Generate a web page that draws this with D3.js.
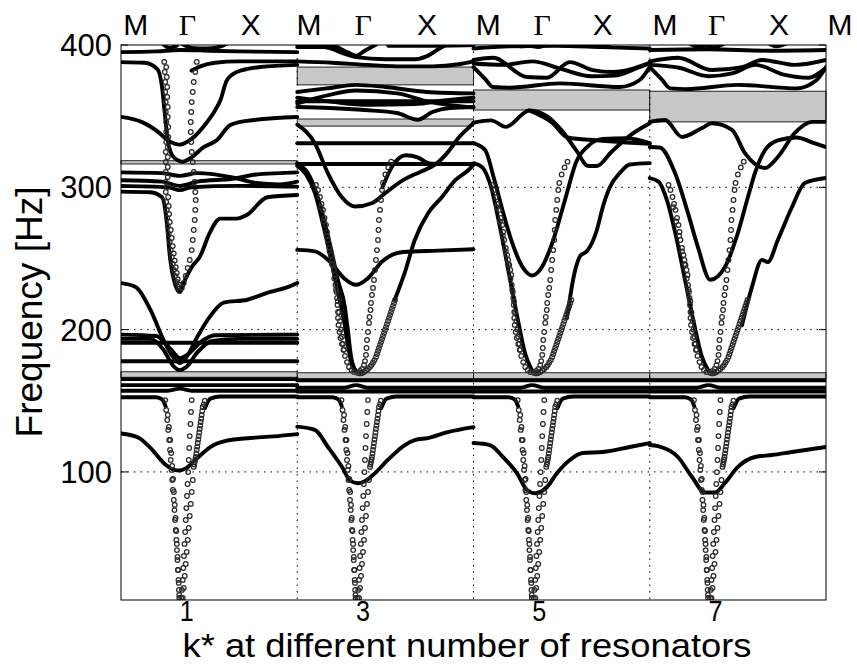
<!DOCTYPE html>
<html>
<head>
<meta charset="utf-8">
<script src="https://cdn.jsdelivr.net/npm/d3@7"></script>
<style>
  body { margin: 0; background: #fff; }
  svg { display: block; }
</style>
</head>
<body>
<div id="app"></div>
<script>
// Band structures M-Γ-X-M for 1, 3, 5, 7 resonators, each panel spans k = 0..3 (Γ at 1, X at 2)
const resonators = [1, 3, 5, 7];
const yTicks = [100, 200, 300, 400];
const resonatorLabelK = [1.12, 4.12, 7.12, 10.12];
const topLabels = ["M", "Γ", "X", "M", "Γ", "X", "M", "Γ", "X", "M", "Γ", "X", "M"];
const topLabelK = [0.25, 1.13, 2.21, 3.2, 4.12, 5.21, 6.25, 7.17, 8.2, 9.26, 10.14, 11.2, 12.24];

// band gaps (grey) per panel, [fLow, fHigh]
const gaps1 = [[166.5, 170.4], [316.4, 318.7]];
const gaps3 = [[165.5, 169.7], [343, 348], [372, 384.5]];
const gaps5 = [[165.5, 169.7], [354.3, 368.4]];
const gaps7 = [[165.5, 169.7], [346, 367.5]];

// solid branches per panel, [k, f]
const lines1 = [
  [[0,127],[0.3,124],[0.52,116],[0.76,105],[0.9,101.5],[1.0,101],[1.1,102.5],[1.28,109],[1.52,117.5],[1.8,122],[2.2,123.8],[2.6,125],[3,126.6]],
  [[0,152.5],[0.6,152.5],[0.7,151],[0.76,146]],
  [[1.43,145],[1.52,151.5],[1.7,153],[3,153]],
  [[0,157],[0.8,157],[1.0,158.5],[1.2,157],[3,157]],
  [[0,161],[3,161]],
  [[0,165.2],[3,165.2]],
  [[0,177.8],[3,177.8]],
  [[0,193.5],[0.5,193.5],[0.72,186],[0.88,175],[1.0,171.5],[1.12,174],[1.3,184],[1.55,192],[2,193.5],[3,193.5]],
  [[0,196.5],[0.6,195.5],[0.85,186],[1.0,180],[1.15,183],[1.35,191],[1.6,196],[3,196.5]],
  [[0,190.8],[3,190.8]],
  [[0,232.7],[0.25,230],[0.5,214],[0.72,193],[0.88,181],[1.0,176.5],[1.12,181],[1.3,195],[1.51,209],[1.75,219],[2.15,221],[2.5,226],[2.85,230],[3,232.7]],
  [[0,297],[0.5,296.5],[0.7,293],[0.78,275],[0.83,252],[0.92,232],[1.0,226.5],[1.1,236],[1.22,245],[1.34,251],[1.51,268],[1.69,278],[1.97,278],[2.14,280.5],[2.49,293],[3,294.6]],
  [[0,310.5],[0.7,310],[1.0,308],[1.3,310],[1.9,307],[2.3,303],[2.7,302],[3,304]],
  [[0,305],[0.7,304],[1.0,301],[1.3,304],[1.9,306],[2.3,309],[2.7,310],[3,310.5]],
  [[0,301],[0.8,300],[1.0,298],[1.2,300],[2.0,301],[3,300.5]],
  [[0,388],[0.4,387.5],[0.62,383],[0.7,370],[0.75,350],[0.8,332],[0.9,321],[1.05,318],[1.2,321],[1.4,328],[1.63,333],[1.86,343.8],[2.11,346.5],[3,349.4]],
  [[0,349.5],[0.35,346],[0.6,340],[0.8,333],[1.0,330],[1.2,334],[1.43,344],[1.6,354],[1.69,361],[1.8,375],[1.97,381],[2.37,384.5],[3,386]],
  [[1.2,382],[1.35,385],[1.6,387.5],[2.0,388.5],[3,388.5]],
  [[0,395],[0.6,395.5],[1.0,396.5],[1.5,396],[2,395.5],[3,395]],
  [[0.72,400.5],[0.82,398],[0.95,399.5]],
  [[1.05,400.5],[1.2,398],[1.45,397.5],[1.7,399],[1.8,401]]
];

const lines3 = [
  [[0,131.8],[0.3,129.5],[0.52,117.7],[0.76,103.6],[0.9,94],[1.03,92],[1.15,93.5],[1.32,99],[1.54,108.4],[1.83,118.9],[2.0,122.4],[2.22,123.8],[2.56,128],[3,131.5]],
  [[0,152.5],[0.6,152.5],[0.7,151],[0.76,146]],
  [[1.43,145],[1.52,151.5],[1.7,153],[3,153]],
  [[0,156.5],[3,156.5]],
  [[0,159.2],[0.8,159.2],[1.0,161],[1.2,159.2],[3,159.2]],
  [[0,164.3],[3,164.3]],
  [[0,256],[0.3,255],[0.55,248],[0.8,236],[1.0,231.5],[1.2,236],[1.45,248],[1.8,254.5],[2.4,255.5],[3,256.5]],
  [[0,317],[0.18,310],[0.35,293],[0.47,275],[0.59,254],[0.69,235],[0.81,216],[0.86,200],[0.92,180],[1.0,171]],
  [[0,315],[0.15,309],[0.3,296],[0.45,272],[0.58,248],[0.7,225],[0.8,205],[0.88,185],[0.95,173],[1,171]],
  [[1.66,221],[1.83,240],[2.0,263],[2.23,282],[2.46,293],[2.69,305],[2.91,312],[3,315.7]],
  [[0,316.4],[3,316.4]],
  [[0,331],[3,331]],
  [[0,344],[0.3,331],[0.52,310],[0.76,293],[0.98,286.5],[1.28,289],[1.5,296],[1.8,305],[2.1,311],[2.35,316],[2.55,324],[2.75,335],[2.92,342],[3,345]],
  [[1.45,300],[1.62,315],[1.85,322.5],[2.05,321],[2.25,316.8],[2.5,316.4]],
  [[0,356.4],[0.55,355.7],[1.15,354.3],[1.7,352.2],[2.05,347.5],[2.3,352.9],[2.6,355.7],[3,356.4]],
  [[0,360.5],[3,360.5]],
  [[0,363],[0.6,360],[1.2,358],[2,358.5],[2.5,361],[3,363]],
  [[0,359],[0.55,365],[1.0,368],[1.7,366],[2.25,360],[3,356]],
  [[0,367],[0.5,369.5],[1.0,372],[1.5,370.5],[2.2,367],[3,366]],
  [[0,388.5],[0.6,387.5],[1.2,386],[1.8,385],[2.3,385],[2.75,386.5],[3,388.5]],
  [[0,400],[0.55,400],[0.85,395],[1.0,392.5],[1.15,396],[1.35,400.5]],
  [[0,398.5],[0.45,398.5],[0.8,394],[1.0,391.5],[1.5,390],[2.0,390],[2.2,392],[2.4,397],[2.55,400.5]],
  [[1.55,399.5],[2.2,399.5],[3,400]]
];

const lines5 = [
  [[0,120.3],[0.28,118.9],[0.5,110.5],[0.74,99.1],[0.91,87.3],[1.05,85],[1.25,89.4],[1.42,99.1],[1.64,108.4],[1.86,113.3],[2.2,114],[2.66,117.5],[3,120.3]],
  [[0,152.5],[0.6,152.5],[0.7,151],[0.76,146]],
  [[1.43,145],[1.52,151.5],[1.7,153],[3,153]],
  [[0,156.5],[3,156.5]],
  [[0,159.2],[0.8,159.2],[1.0,161],[1.2,159.2],[3,159.2]],
  [[0,164.3],[3,164.3]],
  [[0,317],[0.15,314],[0.3,300],[0.45,272],[0.6,240],[0.75,208],[0.88,183],[1,171]],
  [[0,331],[0.2,326],[0.35,306],[0.5,283],[0.65,262],[0.85,243],[1.0,238],[1.15,243],[1.35,262],[1.55,290],[1.75,318],[1.95,329],[2.2,334],[2.6,334.5],[3,331]],
  [[1.59,208],[1.72,240],[1.82,252],[1.93,255],[2.1,270],[2.2,286],[2.32,300],[2.49,310],[2.66,316],[3,317]],
  [[0,345.5],[0.3,347],[0.55,342.5],[0.95,354],[1.25,350],[1.5,340],[1.75,326],[1.95,315],[2.1,315],[2.35,325],[2.65,336],[3,345]],
  [[0.95,354],[1.35,345],[1.6,335],[2.1,333],[2.6,331.5],[3,330.5]],
  [[0,384.5],[0.2,376],[0.33,370.5],[0.62,370],[1.47,373],[2.49,370.5],[2.83,375.4],[3,384.5]],
  [[0,389.5],[0.33,391],[0.91,377.5],[1.25,377],[1.64,388],[2.03,382.4],[2.37,381],[3,387.4]],
  [[0,387],[0.5,386],[1.0,388.5],[1.5,383],[2.0,378],[2.4,378.5],[2.8,384],[3,387]],
  [[0,397.5],[0.6,399],[1.4,399.5],[2.2,398.5],[3,397.5]],
  [[0.7,400.5],[0.8,399],[0.95,399.5],[1.1,398.5],[1.25,400.5]],
  [[2.05,400.5],[2.15,399],[2.3,400.5]]
];

const lines7 = [
  [[0,118.9],[0.14,118.2],[0.48,110.5],[0.72,96.4],[0.94,85.5],[1.11,85.5],[1.28,92.2],[1.5,103.5],[1.79,110.5],[2.08,111.9],[2.42,114],[3,117.5]],
  [[0,152.5],[0.6,152.5],[0.7,151],[0.76,146]],
  [[1.43,145],[1.52,151.5],[1.7,153],[3,153]],
  [[0,156.5],[3,156.5]],
  [[0,159.2],[0.8,159.2],[1.0,161],[1.2,159.2],[3,159.2]],
  [[0,164.3],[3,164.3]],
  [[0,306.5],[0.15,304],[0.3,290],[0.45,265],[0.6,235],[0.75,205],[0.88,182],[1,171]],
  [[0,328.3],[0.17,328],[0.43,310],[0.65,282],[0.82,258],[1.03,235],[1.28,244],[1.5,268],[1.67,293],[1.79,310],[1.96,326],[2.18,333],[2.5,335],[2.8,331],[3,328.3]],
  [[1.57,203],[1.74,230],[1.91,249],[2.01,247.5],[2.18,263],[2.42,286],[2.64,303],[3,306.5]],
  [[0,346],[0.26,347.3],[0.55,335.4],[0.89,341.7],[1.06,345],[1.4,340.3],[1.62,324],[1.96,313.6],[2.18,321.3],[2.47,338.2],[2.76,346],[3,346]],
  [[0,384.5],[0.2,376],[0.35,369.5],[0.62,369],[1.5,372],[2.5,369.5],[2.83,375],[3,384.5]],
  [[0,388.5],[0.48,391],[1.06,382.4],[1.57,384.5],[1.91,389.5],[2.47,386],[3,389.5]],
  [[0,386],[0.5,384],[1.0,378],[1.4,380],[1.8,386],[2.3,379],[2.7,377],[3,384]],
  [[0,396.5],[1,397],[2,396],[3,396.5]],
  [[0.7,400.5],[0.8,399],[0.95,399.5],[1.1,398.5],[1.25,400.5]],
  [[2.05,400.5],[2.15,399],[2.3,400.5]]
];

// circle-marked branches, [k - kΓ, f]
const dotsLow = [
  [[-0.247,150.5],[-0.23,143.5],[-0.213,136.5],[-0.196,129.5],[-0.179,122.4],[-0.165,115.4],[-0.153,108.4],[-0.14,101.4],[-0.128,94.3],[-0.116,87.3],[-0.102,80.3],[-0.09,73.2],[-0.08,66.2],[-0.068,59.2],[-0.058,52.2],[-0.048,45.1],[-0.039,38.1],[-0.031,31.1],[-0.022,24.1],[-0.014,17.1],[-0.007,11.4]],
  [[-0.204,140],[-0.184,131.6],[-0.163,122.4],[-0.146,113.3],[-0.129,104.2],[-0.114,95],[-0.1,85.9],[-0.085,76.8],[-0.071,67.6],[-0.06,58.5],[-0.049,49.4],[-0.037,40.2],[-0.027,31.1],[-0.017,22],[-0.009,13.5]],
  [[0.204,150.5],[0.192,142.1],[0.182,133.7],[0.17,125.2],[0.162,116.8],[0.153,108.4],[0.143,99.9],[0.133,91.5],[0.123,83.1],[0.112,74.6],[0.102,66.2],[0.092,57.8],[0.082,49.4],[0.071,40.9],[0.061,32.5],[0.051,24.1],[0.037,17.1],[0.026,11.4]],
  [[0.425,150],[0.408,147.5],[0.391,145.6],[0.383,142.8],[0.374,140],[0.366,137.5],[0.357,135.1],[0.349,132.6],[0.34,130.2],[0.332,127.7],[0.323,125.2],[0.315,122.8],[0.306,120.3],[0.298,117.8],[0.289,115.4],[0.281,113],[0.272,110.5],[0.264,108.7],[0.255,107],[0.247,105.2],[0.238,103.5],[0.221,94.3],[0.204,85.9],[0.187,77.5],[0.17,69],[0.153,60.6],[0.136,52.2],[0.119,43.7],[0.102,35.3],[0.085,26.9],[0.068,18.5],[0.051,11.4]]
];

const dotsMid = [
  [[-0.681,301.6],[-0.647,298.1],[-0.613,293.2],[-0.587,288.3],[-0.562,284.1],[-0.536,278.4],[-0.511,273.5],[-0.494,268.6],[-0.477,263],[-0.451,257.4],[-0.426,252.4],[-0.409,248.9],[-0.391,245.4],[-0.374,241.9],[-0.357,238.4],[-0.349,231.4],[-0.332,226.5],[-0.323,222.2],[-0.315,217.3],[-0.306,212.4],[-0.306,208.2],[-0.298,203.3],[-0.281,198.3],[-0.264,194.1],[-0.238,189.9],[-0.213,185.7],[-0.187,181.5],[-0.153,177.2],[-0.119,173.7],[-0.077,171.6],[-0.034,170.2]],
  [[-0.6,286],[-0.55,276],[-0.5,266],[-0.45,255],[-0.41,246],[-0.37,236],[-0.34,228],[-0.31,220],[-0.29,212],[-0.272,206],[-0.255,200],[-0.238,195],[-0.221,190],[-0.204,186]],
  [[0.6,318],[0.55,314],[0.5,309],[0.46,303],[0.443,298.1],[0.426,291.1],[0.409,284.1],[0.391,277],[0.383,270],[0.374,263],[0.357,255.9],[0.34,248.9],[0.323,241.9],[0.306,234.9],[0.289,229.3],[0.272,224.3],[0.255,218.7],[0.247,213.8],[0.23,208.9],[0.221,204.7],[0.204,198.3],[0.187,192.7],[0.179,187.1],[0.17,182.2],[0.153,177.9],[0.136,175.1],[0.102,172.3],[0.068,170.9],[0.034,169.5]],
  [[0.664,220.8],[0.647,218.7],[0.63,216.6],[0.613,214.5],[0.596,212.4],[0.579,210.3],[0.562,208.2],[0.545,206.1],[0.528,203.9],[0.511,201.8],[0.494,199.7],[0.477,197.6],[0.46,195.5],[0.443,193.4],[0.426,191.3],[0.409,189.2],[0.391,187.1],[0.374,185],[0.357,182.9],[0.34,180.8],[0.315,178.6],[0.289,176.9],[0.264,175.1],[0.238,173.7],[0.204,172.3],[0.17,171.3],[0.136,170.2],[0.102,169.5],[0.068,169.2]]
];

const dotsTop1 = [
  [[-0.264,388.1],[-0.255,381],[-0.247,374],[-0.247,367],[-0.238,359.9],[-0.238,352.9],[-0.23,345.9],[-0.23,338.9],[-0.23,331.8],[-0.238,324.8],[-0.238,317.8],[-0.238,310.8],[-0.238,303.7],[-0.238,296.7],[-0.23,289.7],[-0.221,284.1],[-0.213,278.4],[-0.204,272.8],[-0.187,267.2],[-0.17,261.6],[-0.153,255.9],[-0.136,251],[-0.119,246.1],[-0.102,241.9],[-0.077,237.7],[-0.051,233.5],[-0.026,230],[0,227.1]],
  [[-0.23,384.5],[-0.221,377.5],[-0.213,370.5],[-0.213,363.5],[-0.204,356.4],[-0.204,349.4],[-0.196,342.4],[-0.196,335.4],[-0.204,328.3],[-0.204,321.3],[-0.204,314.3],[-0.204,307.2],[-0.204,300.2],[-0.196,293.2],[-0.187,286.9],[-0.179,281.2],[-0.17,275.6],[-0.153,270],[-0.136,264.4],[-0.119,258.7],[-0.102,253.5],[-0.085,248.5],[-0.068,243.9],[-0.051,239.8],[-0.034,235.5],[-0.017,231.8]],
  [[0.289,388.1],[0.264,381],[0.238,374],[0.221,367],[0.204,359.9],[0.196,352.9],[0.187,345.9],[0.187,338.9],[0.196,331.8],[0.204,324.8],[0.221,317.8],[0.238,310.8],[0.255,303.7],[0.264,296.7],[0.272,291.1],[0.264,284.1],[0.255,277],[0.238,270],[0.221,263],[0.204,255.9],[0.17,248.9],[0.136,243.3],[0.102,237.7],[0.068,232.8],[0.034,229.3]]
];

const panelLines = [lines1, lines3, lines5, lines7];
const panelGaps = [gaps1, gaps3, gaps5, gaps7];
const panelDots = [dotsLow.concat(dotsTop1), dotsLow.concat(dotsMid), dotsLow.concat(dotsMid), dotsLow.concat(dotsMid)];

const d3 = window.d3;
const width = 857, height = 664;
const plot = { left: 121, right: 826, top: 45, bottom: 600 };

const x = d3.scaleLinear().domain([0, 12]).range([plot.left, plot.right]);
const y = d3.scaleLinear().domain([10, 400]).range([plot.bottom, plot.top]);

const svg = d3.select("#app").append("svg")
  .attr("width", width).attr("height", height);

svg.append("clipPath").attr("id", "clip")
  .append("rect")
  .attr("x", plot.left).attr("y", plot.top)
  .attr("width", plot.right - plot.left).attr("height", plot.bottom - plot.top);

const sans = "'Liberation Sans', Arial, sans-serif";
const narrow = "'Liberation Sans Narrow', 'Arial Narrow', 'Liberation Sans', sans-serif";

// grey band gaps
const gapG = svg.append("g");
panelGaps.forEach((gaps, i) => {
  gapG.selectAll(null).data(gaps).join("rect")
    .attr("x", x(i * 3)).attr("width", x(3) - x(0))
    .attr("y", d => y(d[1])).attr("height", d => y(d[0]) - y(d[1]))
    .attr("fill", "#c8c8c8").attr("stroke", "#222").attr("stroke-width", 1);
});

// dotted grid
const grid = svg.append("g").attr("stroke", "#000").attr("stroke-width", 1)
  .attr("stroke-dasharray", "1.5,5");
grid.selectAll(null).data([100, 200, 300]).join("line")
  .attr("x1", plot.left).attr("x2", plot.right)
  .attr("y1", d => y(d)).attr("y2", d => y(d));
grid.selectAll(null).data([3, 6, 9]).join("line")
  .attr("x1", d => x(d)).attr("x2", d => x(d))
  .attr("y1", plot.top).attr("y2", plot.bottom);

// solid branches
const line = d3.line()
  .x(d => x(d[0]))
  .y(d => y(d[1]))
  .curve(d3.curveMonotoneX);

const lineG = svg.append("g").attr("clip-path", "url(#clip)")
  .attr("fill", "none").attr("stroke", "#000")
  .attr("stroke-width", 3.9).attr("stroke-linecap", "round").attr("stroke-linejoin", "round");
panelLines.forEach((lines, i) => {
  lineG.selectAll(null).data(lines).join("path")
    .attr("d", d => line(d.map(p => [i * 3 + p[0], p[1]])));
});

// circle branches
const dotG = svg.append("g").attr("clip-path", "url(#clip)")
  .attr("fill", "none").attr("stroke", "#2a2a2a").attr("stroke-width", 1.25);
panelDots.forEach((branches, i) => {
  const pts = branches.flat();
  dotG.selectAll(null).data(pts).join("circle")
    .attr("cx", d => x(i * 3 + 1 + d[0]))
    .attr("cy", d => y(d[1]))
    .attr("r", 2.3);
});

// frame and ticks
svg.append("rect")
  .attr("x", plot.left).attr("y", plot.top)
  .attr("width", plot.right - plot.left).attr("height", plot.bottom - plot.top)
  .attr("fill", "none").attr("stroke", "#000").attr("stroke-width", 1);

const tickG = svg.append("g").attr("stroke", "#000").attr("stroke-width", 1);
tickG.selectAll(null).data(yTicks).join("line")
  .attr("x1", plot.left).attr("x2", plot.left + 7)
  .attr("y1", d => y(d)).attr("y2", d => y(d));
tickG.selectAll(null).data(yTicks).join("line")
  .attr("x1", plot.right - 7).attr("x2", plot.right)
  .attr("y1", d => y(d)).attr("y2", d => y(d));

svg.append("g").selectAll("text").data(yTicks).join("text")
  .attr("x", plot.left - 9).attr("y", d => y(d) + 11)
  .attr("text-anchor", "end")
  .attr("font-family", sans).attr("font-size", 31)
  .text(d => d);

svg.append("text")
  .attr("transform", "translate(42,312) rotate(-90)")
  .attr("text-anchor", "middle")
  .attr("font-family", sans).attr("font-size", 37)
  .text("Frequency [Hz]");

// symmetry point labels along the top
svg.append("g").selectAll("text").data(topLabels).join("text")
  .attr("x", (d, i) => x(topLabelK[i])).attr("y", 35)
  .attr("text-anchor", "middle")
  .attr("font-family", d => d === "Γ" ? "'Liberation Serif', serif" : sans)
  .attr("font-size", 30)
  .text(d => d);

// resonator count labels
svg.append("g").selectAll("text").data(resonators).join("text")
  .attr("x", (d, i) => x(resonatorLabelK[i])).attr("y", 621)
  .attr("text-anchor", "middle")
  .attr("font-family", narrow).attr("font-size", 29)
  .attr("textLength", 14).attr("lengthAdjust", "spacingAndGlyphs")
  .text(d => d);

svg.append("text")
  .attr("x", 467).attr("y", 657)
  .attr("text-anchor", "middle")
  .attr("font-family", narrow).attr("font-size", 33)
  .attr("textLength", 569).attr("lengthAdjust", "spacingAndGlyphs")
  .text("k* at different number of resonators");
</script>
</body>
</html>
